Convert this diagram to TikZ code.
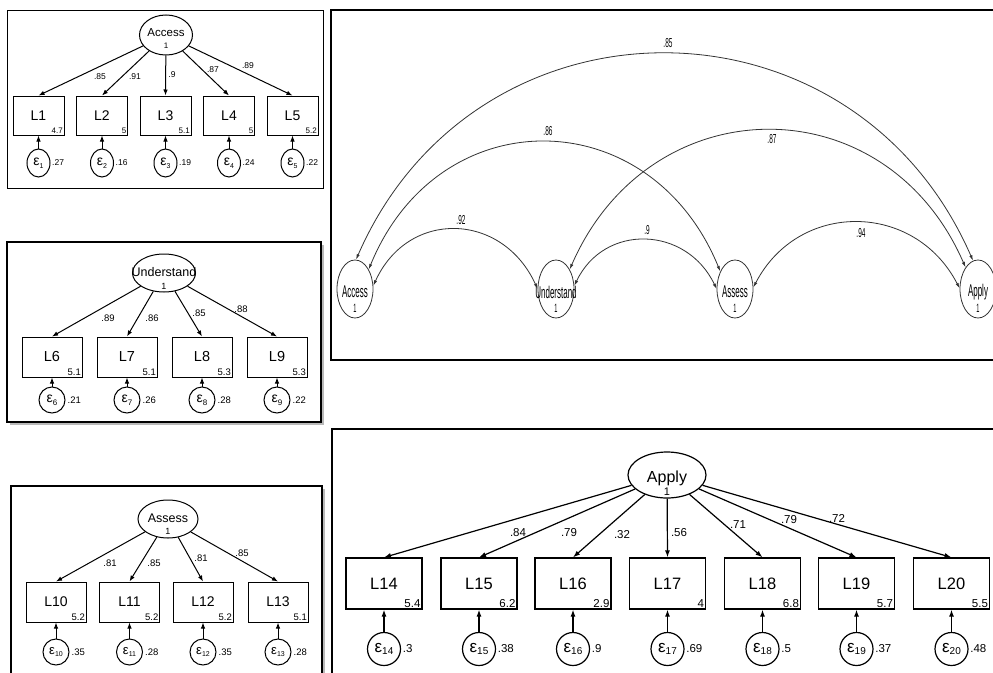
\documentclass[tikz,border=0pt]{standalone}
\usepackage{fontspec}
\usepackage{graphicx}
\setmainfont{Liberation Sans}
\usetikzlibrary{arrows.meta,shapes.geometric,shadows}
\newcommand{\fs}[1]{\fontsize{#1}{#1}\selectfont}
\newcommand{\epsl}[3]{{\fs{#1}ε}\raisebox{-0.5ex}{\fs{#2}#3}}
\newcommand{\cnd}[1]{\scalebox{0.47}[1]{#1}}
\begin{document}
\begin{tikzpicture}[x=1pt,y=-1pt,
  panel/.style={draw=black,line width=1.2pt,fill=white},
  shpanel/.style={panel,drop shadow={shadow xshift=2.5pt,shadow yshift=-2.5pt,opacity=0.55}},
  lat/.style={draw,ellipse,line width=1pt,inner sep=0pt},
  obs/.style={draw,rectangle,line width=1pt,inner sep=0pt},
  err/.style={draw,ellipse,line width=1pt,inner sep=0pt},
  txt/.style={inner sep=0pt},
  load/.style={-{Latex[length=6pt,width=4.5pt]},line width=1pt},
  bload/.style={-{Latex[length=7pt,width=5pt]},line width=1.2pt},
  cov/.style={{Latex[length=5.5pt,width=3.2pt]}-{Latex[length=5.5pt,width=3.2pt]},line width=0.8pt,draw=black!80},
  lat4/.style={draw=black!80,ellipse,line width=0.8pt,inner sep=0pt,minimum width=36pt,minimum height=58pt}
]
\useasboundingbox (0,0) rectangle (993,672);
\clip (0,0) rectangle (993,672);

% ---------------- Panel 1: Access ----------------
\draw[panel,line width=1pt] (7,10) rectangle (323,188);
\node[lat,minimum width=53pt,minimum height=40pt] (acc1) at (166,35) {};
\node[txt,font=\fs{11.5}] (acc1t) at (166,33) {Access};
\node[txt,font=\fs{8}] (acc1o) at (166,45.5) {1};
\foreach \i/\x/\v/\r in {1/38.5/4.7/.27, 2/102/5/.16, 3/165.5/5.1/.19, 4/229/5/.24, 5/292.5/5.2/.22}{
  \node[obs,minimum width=51pt,minimum height=39pt,font=\fs{14}] (L\i) at (\x,115.5) {L\i};
  \node[anchor=south east,inner sep=1.5pt,font=\fs{8}] (vL\i) at (L\i.south east) {\v};
  \node[err,minimum width=23pt,minimum height=28pt] (e\i) at (\x,163) {\epsl{14}{7}{\i}};
  \node[anchor=west,inner sep=1.5pt,font=\fs{8.5}] (r\i) at (e\i.east) {\r};
  \draw[load] (acc1) -- (L\i.north);
  \draw[load] (e\i) -- (L\i);
}
\foreach \n/\x/\y/\t in {a/100/77/.85, b/135/77/.91, c/172/75/.9, d/213/70/.87, e/248/66/.89}{
  \node[txt,font=\fs{8.5}] (la\n) at (\x,\y) {\t};
}

% ---------------- Panel 2: Understand ----------------
\draw[shpanel] (7,242) rectangle (321,422);
\node[lat,minimum width=63pt,minimum height=38pt] (und2) at (164,273) {};
\node[txt,font=\fs{12.5}] (und2t) at (164,272) {Understand};
\node[txt,font=\fs{9}] (und2o) at (164,286) {1};
\foreach \i/\x/\v/\r in {6/52/5.1/.21, 7/127/5.1/.26, 8/202/5.3/.28, 9/277/5.3/.22}{
  \node[obs,minimum width=60pt,minimum height=40pt,font=\fs{14.5}] (L\i) at (\x,357) {L\i};
  \node[anchor=south east,inner sep=1.5pt,font=\fs{9.5}] (vL\i) at (L\i.south east) {\v};
  \node[err,minimum width=26pt,minimum height=26pt] (e\i) at (\x,400) {\epsl{14}{8}{\i}};
  \node[anchor=west,inner sep=2pt,font=\fs{9.5}] (r\i) at (e\i.east) {\r};
  \draw[load] (und2) -- (L\i.north);
  \draw[load] (e\i) -- (L\i);
}
\foreach \n/\x/\y/\t in {a/108/318/.89, b/152/318/.86, c/199/313/.85, d/241/309/.88}{
  \node[txt,font=\fs{9.5}] (lb\n) at (\x,\y) {\t};
}

% ---------------- Panel 3: Assess ----------------
\draw[shpanel] (11,486) rectangle (322,700);
\node[lat,minimum width=60pt,minimum height=38pt] (ass3) at (168,519) {};
\node[txt,font=\fs{12.5}] (ass3t) at (168,518) {Assess};
\node[txt,font=\fs{9}] (ass3o) at (168,531) {1};
\foreach \i/\x/\v/\r in {10/56/5.2/.35, 11/129.5/5.2/.28, 12/203/5.2/.35, 13/278/5.1/.28}{
  \node[obs,minimum width=60pt,minimum height=40pt,font=\fs{14}] (L\i) at (\x,602) {L\i};
  \node[anchor=south east,inner sep=1.5pt,font=\fs{9.5}] (vL\i) at (L\i.south east) {\v};
  \node[err,minimum width=26pt,minimum height=26pt] (e\i) at (\x,652) {\epsl{13}{7}{\i}};
  \node[anchor=west,inner sep=2pt,font=\fs{9.5}] (r\i) at (e\i.east) {\r};
  \draw[load] (ass3) -- (L\i.north);
  \draw[load] (e\i) -- (L\i);
}
\foreach \n/\x/\y/\t in {a/110/563/.81, b/154/563/.85, c/201/558/.81, d/242/553/.85}{
  \node[txt,font=\fs{9.5}] (lc\n) at (\x,\y) {\t};
}

% ---------------- Panel 4: correlations ----------------
\draw[panel,line width=1.5pt] (331,10) rectangle (1000,360);
\node[lat4] (acc4) at (355,289) {};
\node[lat4] (und4) at (556,289) {};
\node[lat4] (ass4) at (735,289) {};
\node[lat4] (app4) at (978,289) {};
\foreach \n/\x/\t in {acc/355/Access, und/556/Understand, ass/735/Assess, app/978/Apply}{
  \node[txt,font=\fs{17}] (\n4t) at (\x,292) {\cnd{\t}};
  \node[txt,font=\fs{12}] (\n4o) at (\x,308) {\cnd{1}};
}
\draw[cov] (acc4.88) .. controls +(120,-275) and +(-120,-275) .. (app4.100);
\draw[cov] (acc4.55) .. controls +(70,-171) and +(-70,-171) .. (ass4.130);
\draw[cov] (und4.55) .. controls +(80,-184) and +(-80,-184) .. (app4.120);
\draw[cov] (acc4.10) .. controls +(35,-77) and +(-35,-77) .. (und4.180);
\draw[cov] (und4.10) .. controls +(30,-63) and +(-30,-63) .. (ass4.180);
\draw[cov] (ass4.5) .. controls +(45,-87) and +(-45,-87) .. (app4.178);
\foreach \n/\x/\y/\t in {a/668/43/.85, b/548/131/.86, c/772/139/.87, d/461/220/.92, e/647/230/.9, f/861/233/.94}{
  \node[txt,font=\fs{13}] (ld\n) at (\x,\y) {\scalebox{0.5}[1]{\t}};
}

% ---------------- Panel 5: Apply ----------------
\draw[panel,line width=1.5pt] (332,429) rectangle (1000,700);
\node[lat,line width=1.2pt,minimum width=78pt,minimum height=46pt] (app5) at (667,475) {};
\node[txt,font=\fs{16}] (app5t) at (667,478) {Apply};
\node[txt,font=\fs{11}] (app5o) at (667,492) {1};
\foreach \i/\x/\v/\r in {14/384/5.4/.3, 15/479/6.2/.38, 16/573/2.9/.9, 17/667.5/4/.69, 18/762.5/6.8/.5, 19/856.5/5.7/.37, 20/951.5/5.5/.48}{
  \node[obs,line width=1.2pt,minimum width=76pt,minimum height=51pt,font=\fs{16.5}] (L\i) at (\x,583.5) {L\i};
  \node[anchor=south east,inner sep=2pt,font=\fs{11.5}] (vL\i) at (L\i.south east) {\v};
  \node[err,line width=1.2pt,minimum width=33pt,minimum height=33pt] (e\i) at (\x,649) {\epsl{17}{10}{\i}};
  \node[anchor=west,inner sep=1.5pt,font=\fs{11.5}] (r\i) at (e\i.east) {\r};
  \draw[bload] (app5) -- (L\i.north);
  \draw[bload] (e\i) -- (L\i);
}
\foreach \n/\x/\y/\t in {a/518/533/.84, b/569/533/.79, c/622/535/.32, d/679/533/.56, e/738/525/.71, f/789/520/.79, g/837/518/.72}{
  \node[txt,font=\fs{11.5}] (le\n) at (\x,\y) {\t};
}
\end{tikzpicture}
\end{document}
